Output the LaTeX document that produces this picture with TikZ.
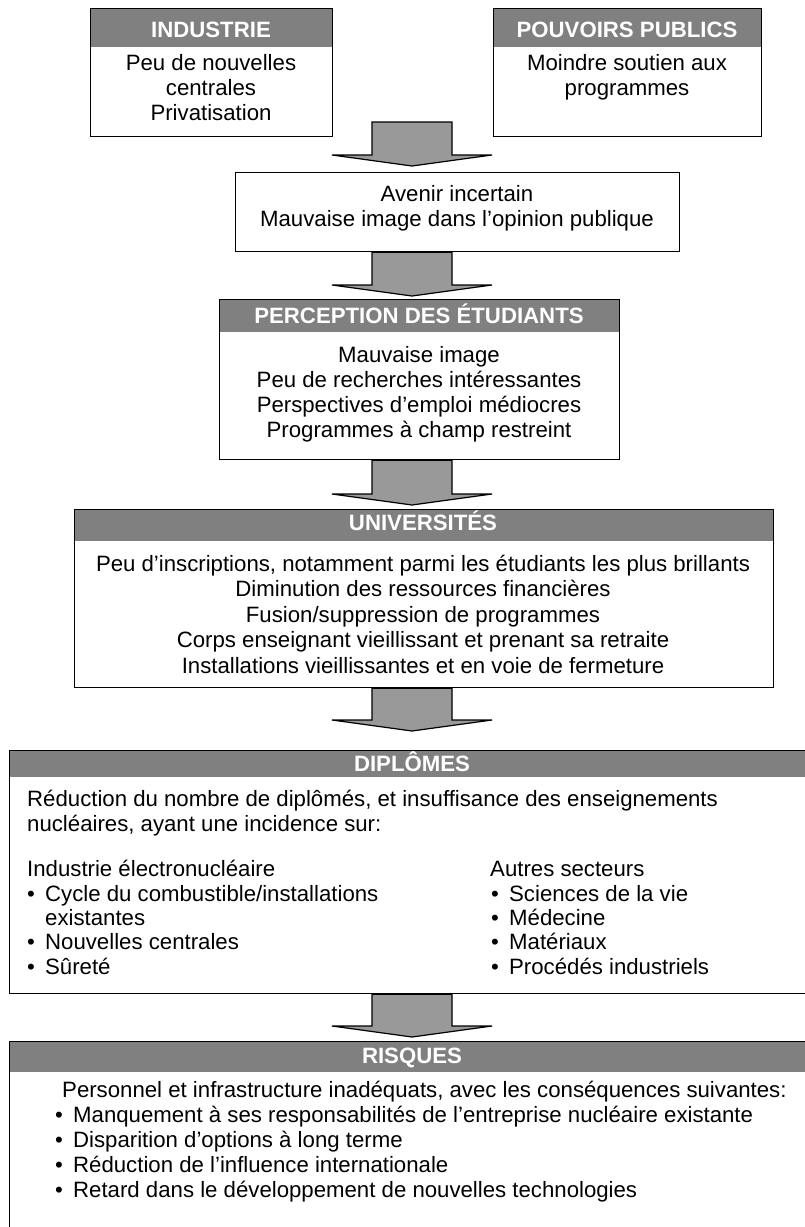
\documentclass[tikz,border=0pt]{standalone}
\usepackage{fontspec}
\setmainfont{Liberation Sans}
\usetikzlibrary{calc}
\definecolor{hdrgray}{RGB}{128,128,128}
\definecolor{arrgray}{RGB}{153,153,153}
\tikzset{
 box/.style={draw=black, line width=1.2pt, inner sep=0pt, anchor=north west},
 hdr/.style={fill=hdrgray, draw=none, inner sep=0pt, anchor=north west},
 htxt/.style={text=white, font=\fontsize{22.2}{25}\selectfont\bfseries, inner sep=0pt, anchor=base},
 txt/.style={font=\fontsize{22.2}{25}\selectfont, inner sep=0pt, anchor=base},
 ltxt/.style={txt, anchor=base west},
 blockarr/.style={draw=black, line width=1.2pt, fill=arrgray, line join=miter},
}
\newcommand{\bul}{\makebox[18pt][l]{•}}
\newcommand{\blockarrow}[2]{%
 \draw[blockarr] let \p1=(#1), \p2=(#2) in
   (\x1-40pt,\y1) -- (\x1-40pt,\y2+11pt) -- (\x1-80pt,\y2+11pt) -- (\x2,\y2)
   -- (\x1+80pt,\y2+11pt) -- (\x1+40pt,\y2+11pt) -- (\x1+40pt,\y1) -- cycle;}
\begin{document}
\begin{tikzpicture}[x=1pt,y=-1pt]
\path[use as bounding box, clip] (0,0) rectangle (805,1227);
\fill[white] (0,0) rectangle (805,1227);

% INDUSTRIE
\node[hdr, minimum width=242pt, minimum height=39pt] (indh) at (90,8) {};
\node[box, minimum width=242pt, minimum height=128pt] (ind) at (90,8) {};
\node[htxt] (indt) at (211,37) {INDUSTRIE};
\node[txt] (ind1) at (211,70) {Peu de nouvelles};
\node[txt] (ind2) at (211,95) {centrales};
\node[txt] (ind3) at (211,120) {Privatisation};

% POUVOIRS PUBLICS
\node[hdr, minimum width=268pt, minimum height=39pt] (pph) at (493,8) {};
\node[box, minimum width=268pt, minimum height=128pt] (pp) at (493,8) {};
\node[htxt] (ppt) at (627,37) {POUVOIRS PUBLICS};
\node[txt] (pp1) at (627,70) {Moindre soutien aux};
\node[txt] (pp2) at (627,95) {programmes};

% arrow 1
\coordinate (a1top) at (412,122);
\coordinate (a1tip) at (412,166);
\blockarrow{a1top}{a1tip}

% AVENIR
\node[box, minimum width=444pt, minimum height=79pt] (av) at (235,172) {};
\node[txt] (av1) at (457,201) {Avenir incertain};
\node[txt] (av2) at (457,226) {Mauvaise image dans l’opinion publique};

% arrow 2
\coordinate (a2tip) at (412,296);
\blockarrow{a1top |- av.south}{a2tip}

% PERCEPTION
\node[hdr, minimum width=400pt, minimum height=33pt] (peh) at (219,299) {};
\node[box, minimum width=400pt, minimum height=160pt] (pe) at (219,299) {};
\node[htxt] (pet) at (419,323) {PERCEPTION DES ÉTUDIANTS};
\node[txt] (pe1) at (419,362) {Mauvaise image};
\node[txt] (pe2) at (419,387) {Peu de recherches intéressantes};
\node[txt] (pe3) at (419,412) {Perspectives d’emploi médiocres};
\node[txt] (pe4) at (419,437) {Programmes à champ restreint};

% arrow 3
\coordinate (a3tip) at (412,505);
\blockarrow{a1top |- pe.south}{a3tip}

% UNIVERSITES
\node[hdr, minimum width=699pt, minimum height=32pt] (unh) at (74,509) {};
\node[box, minimum width=699pt, minimum height=178pt] (un) at (74,509) {};
\node[htxt] (unt) at (423,530) {UNIVERSITÉS};
\node[txt] (un1) at (423,571) {Peu d’inscriptions, notamment parmi les étudiants les plus brillants};
\node[txt] (un2) at (423,596) {Diminution des ressources financières};
\node[txt] (un3) at (423,622) {Fusion/suppression de programmes};
\node[txt] (un4) at (423,647) {Corps enseignant vieillissant et prenant sa retraite};
\node[txt] (un5) at (423,673) {Installations vieillissantes et en voie de fermeture};

% arrow 4
\coordinate (a4tip) at (412,731);
\blockarrow{a1top |- un.south}{a4tip}

% DIPLOMES
\node[hdr, minimum width=806pt, minimum height=27pt] (dih) at (9,750) {};
\node[box, minimum width=806pt, minimum height=243pt] (di) at (9,750) {};
\node[htxt] (dit) at (412,771) {DIPLÔMES};
\node[ltxt] (di1) at (27,806) {Réduction du nombre de diplômés, et insuffisance des enseignements};
\node[ltxt] (di2) at (27,831) {nucléaires, ayant une incidence sur:};
\node[ltxt] (dl0) at (27,876) {Industrie électronucléaire};
\node[ltxt] (dl1) at (27,901) {\bul Cycle du combustible/installations};
\node[ltxt] (dl2) at (45,925) {existantes};
\node[ltxt] (dl3) at (27,949) {\bul Nouvelles centrales};
\node[ltxt] (dl4) at (27,974) {\bul Sûreté};
\node[ltxt] (dr0) at (490,876) {Autres secteurs};
\node[ltxt] (dr1) at (491,901) {\bul Sciences de la vie};
\node[ltxt] (dr2) at (491,925) {\bul Médecine};
\node[ltxt] (dr3) at (491,949) {\bul Matériaux};
\node[ltxt] (dr4) at (491,974) {\bul Procédés industriels};

% arrow 5
\coordinate (a5tip) at (412,1037);
\blockarrow{a1top |- di.south}{a5tip}

% RISQUES
\node[hdr, minimum width=806pt, minimum height=31pt] (rih) at (9,1041) {};
\node[box, minimum width=806pt, minimum height=260pt] (ri) at (9,1041) {};
\node[htxt] (rit) at (412,1063) {RISQUES};
\node[ltxt] (ri0) at (62,1097) {Personnel et infrastructure inadéquats, avec les conséquences suivantes:};
\node[ltxt] (ri1) at (55,1122) {\bul Manquement à ses responsabilités de l’entreprise nucléaire existante};
\node[ltxt] (ri2) at (55,1147) {\bul Disparition d’options à long terme};
\node[ltxt] (ri3) at (55,1172) {\bul Réduction de l’influence internationale};
\node[ltxt] (ri4) at (55,1197) {\bul Retard dans le développement de nouvelles technologies};
\end{tikzpicture}
\end{document}
